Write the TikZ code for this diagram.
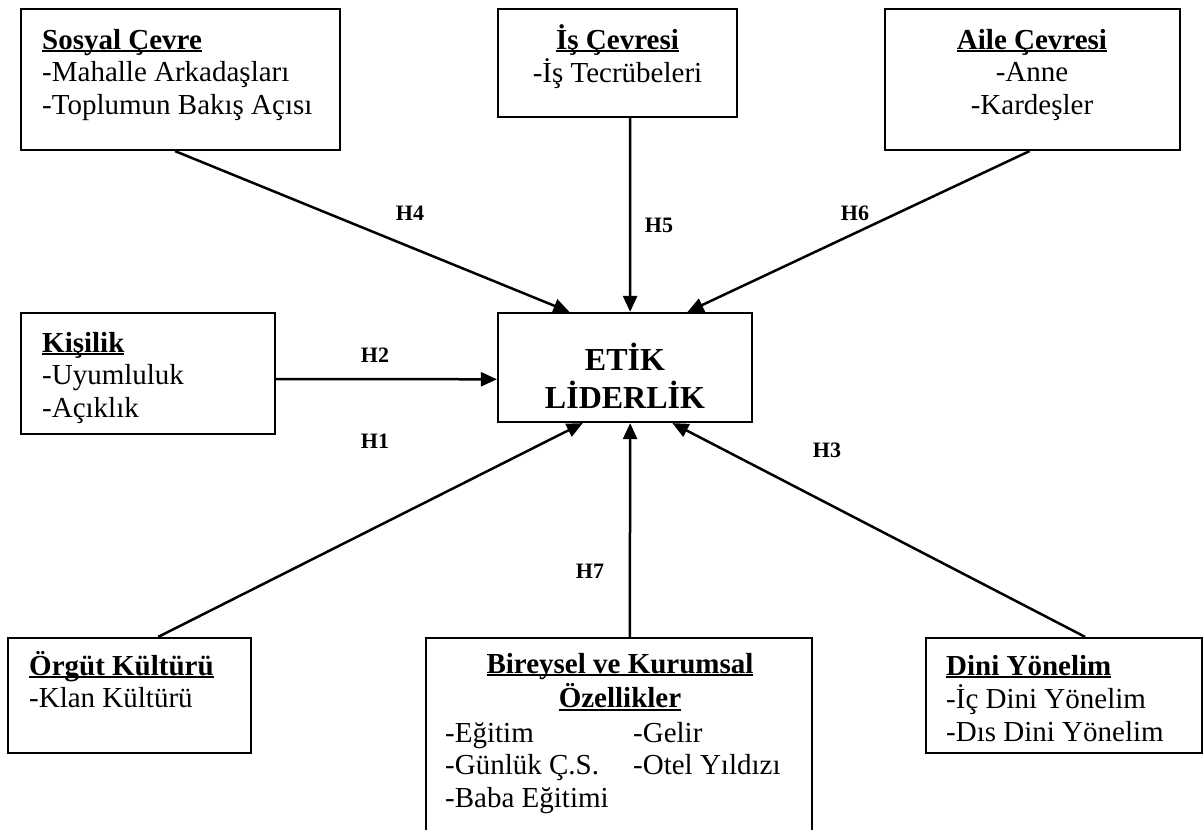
\documentclass[tikz,border=0pt]{standalone}
\usepackage{fontspec}
\setmainfont{Liberation Serif}
\usetikzlibrary{calc,arrows.meta}
% underline at a fixed depth below the baseline
\newcommand\ulin[1]{\setbox0\hbox{#1}\rlap{\rule[-3pt]{\wd0}{1.8pt}}\box0}
\newcommand\bodyfont{\fontsize{29}{32.5}\selectfont}
\begin{document}
\begin{tikzpicture}[x=1pt,y=-1pt,
  box/.style={draw, line width=2.2pt, rectangle, inner sep=0pt},
  txtl/.style={inner sep=0pt, anchor=base west, font=\bodyfont},
  txtc/.style={inner sep=0pt, anchor=base, font=\bodyfont},
  hlabel/.style={inner sep=0pt, font=\fontsize{22}{25}\selectfont\bfseries},
  link/.style={line width=2.5pt, -{Triangle[length=16pt,width=14pt]}}]
\useasboundingbox (0,0) rectangle (1203,830);
\clip (0,0) rectangle (1203,830);

% boxes
\node[box, minimum width=319pt, minimum height=141pt] (sosyal) at (180.5,79.5) {};
\node[box, minimum width=239pt, minimum height=108pt] (is) at (617.5,63) {};
\node[box, minimum width=295pt, minimum height=141pt] (aile) at (1032.5,79.5) {};
\node[box, minimum width=254pt, minimum height=121pt] (kisilik) at (148,373.5) {};
\node[box, minimum width=254pt, minimum height=109pt] (etik) at (625,367.5) {};
\node[box, minimum width=243pt, minimum height=115pt] (orgut) at (129.5,695.5) {};
\node[box, minimum width=386pt, minimum height=202pt] (bireysel) at (619,739) {};
\node[box, minimum width=276pt, minimum height=115pt] (dini) at (1064,695.5) {};

% box texts
\node[txtl] (sosyalT) at (42,49) {\begin{tabular}[t]{@{}l@{}}\ulin{\textbf{Sosyal Çevre}}\\-Mahalle Arkadaşları\\-Toplumun Bakış Açısı\end{tabular}};
\node[txtc] (isT) at (617.5,49) {\begin{tabular}[t]{@{}c@{}}\ulin{\textbf{İş Çevresi}}\\-İş Tecrübeleri\end{tabular}};
\node[txtc] (aileT) at (1032,49) {\begin{tabular}[t]{@{}c@{}}\ulin{\textbf{Aile Çevresi}}\\-Anne\\-Kardeşler\end{tabular}};
\node[txtl] (kisilikT) at (42,352) {\begin{tabular}[t]{@{}l@{}}\ulin{\textbf{Kişilik}}\\-Uyumluluk\\-Açıklık\end{tabular}};
\node[inner sep=0pt, anchor=base, font=\fontsize{32}{37}\selectfont\bfseries] (etikT) at (625,370) {\begin{tabular}[t]{@{}c@{}}ETİK\\LİDERLİK\end{tabular}};
\node[txtl] (orgutT) at (29,675) {\begin{tabular}[t]{@{}l@{}}\ulin{\textbf{Örgüt Kültürü}}\\-Klan Kültürü\end{tabular}};
\node[txtc] (bireyselT) at (620,673) {\begin{tabular}[t]{@{}c@{}}\ulin{\textbf{Bireysel ve Kurumsal}}\\[1pt]\ulin{\textbf{Özellikler}}\end{tabular}};
\node[txtl] (bireyselA) at (445,742) {\begin{tabular}[t]{@{}l@{}}-Eğitim\\-Günlük Ç.S.\\-Baba Eğitimi\end{tabular}};
\node[txtl] (bireyselB) at (633,742) {\begin{tabular}[t]{@{}l@{}}-Gelir\\-Otel Yıldızı\end{tabular}};
\node[txtl] (diniT) at (946,675) {\begin{tabular}[t]{@{}l@{}}\ulin{\textbf{Dini Yönelim}}\\-İç Dini Yönelim\\-Dıs Dini Yönelim\end{tabular}};

% connectors
\draw[link] ($(sosyal.south west)!0.483!(sosyal.south east)$) -- ($(etik.north west)!0.283!(etik.north east)$);
\draw[link] ($(is.south west)!0.552!(is.south east)$) -- ($(etik.north west)!0.52!(etik.north east)$);
\draw[link] ($(aile.south west)!0.49!(aile.south east)$) -- ($(etik.north west)!0.744!(etik.north east)$);
\draw[link] ($(kisilik.north east)!0.545!(kisilik.south east)$) -- ($(etik.north west)!0.606!(etik.south west)$);
\draw[link] ($(orgut.north west)!0.617!(orgut.north east)$) -- ($(etik.south west)!0.335!(etik.south east)$);
\draw[link] ($(bireysel.north west)!0.528!(bireysel.north east)$) -- ($(etik.south west)!0.52!(etik.south east)$);
\draw[link] ($(dini.north west)!0.576!(dini.north east)$) -- ($(etik.south west)!0.685!(etik.south east)$);

% hypothesis labels
\node[hlabel] (h4) at (410,213) {H4};
\node[hlabel] (h5) at (659,225) {H5};
\node[hlabel] (h6) at (855,213) {H6};
\node[hlabel] (h2) at (375,355) {H2};
\node[hlabel] (h1) at (375,441) {H1};
\node[hlabel] (h7) at (590,571) {H7};
\node[hlabel] (h3) at (827,450) {H3};
\end{tikzpicture}
\end{document}
